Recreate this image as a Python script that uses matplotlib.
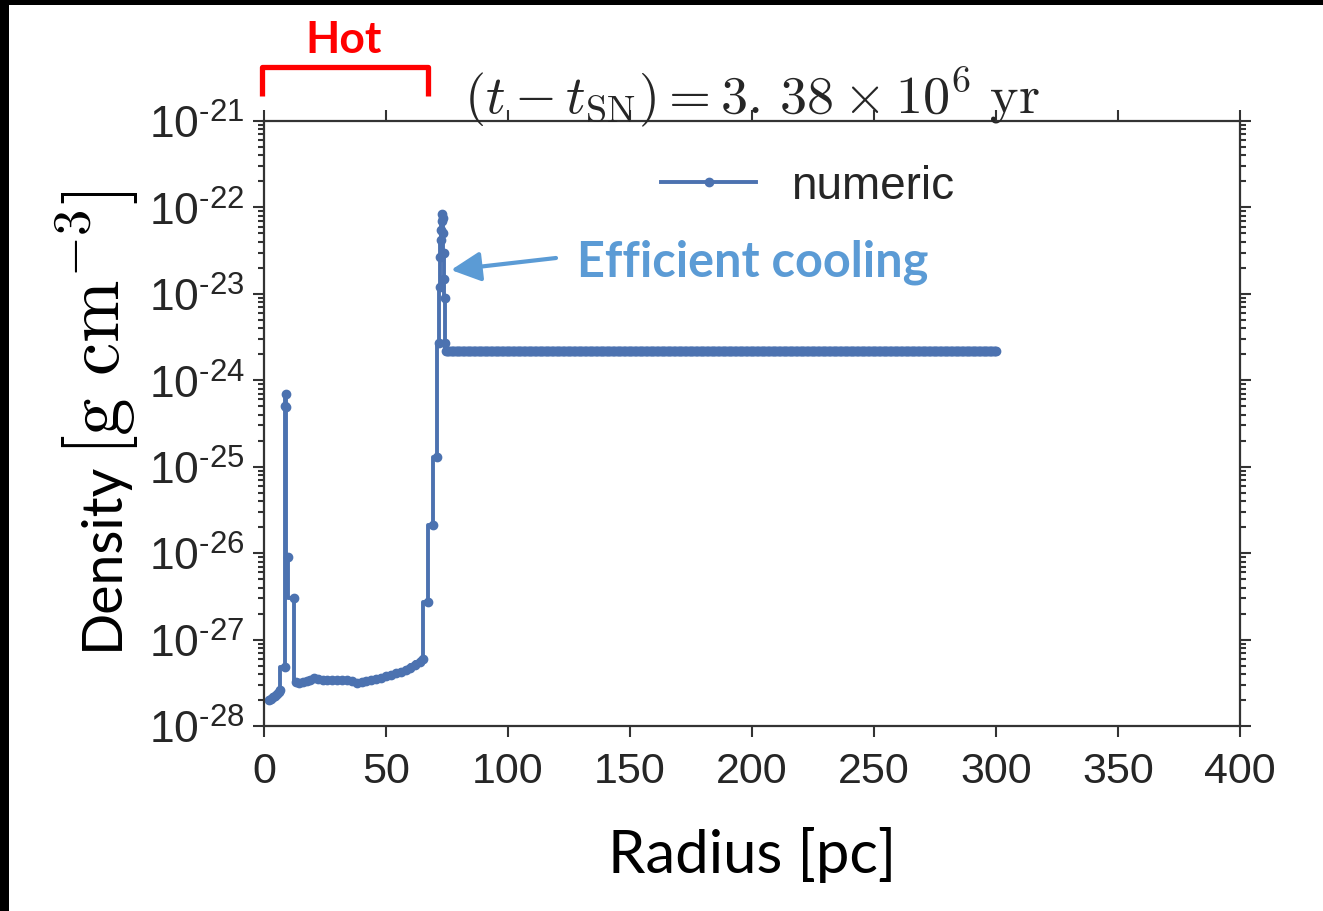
import numpy as np
import matplotlib
matplotlib.use("Agg")
import matplotlib.pyplot as plt
from matplotlib.lines import Line2D
from matplotlib.patches import Rectangle, FancyArrowPatch
from matplotlib.ticker import FixedLocator, LogLocator, NullFormatter

# ---- density profile of the remnant: radius [pc], density [g cm^-3] ----
# hot bubble interior, including the dense clump near the centre
radius_bubble = [2.0, 2.8, 3.6, 4.4, 5.2, 6.0, 6.6, 8.6, 8.7, 8.9, 9.1, 9.8,
                 12.4, 13.0, 14.5, 16.0, 17.5, 19.0, 20.5, 22.0, 24.0, 26.0,
                 28.0, 30.0, 32.0, 34.0, 36.0, 38.0, 40.0, 42.0, 44.0, 46.0,
                 48.0, 50.0, 52.0, 54.0, 56.0, 58.0, 60.0, 62.0, 64.0, 65.0]
density_bubble = [2.0e-28, 2.05e-28, 2.15e-28, 2.25e-28, 2.35e-28, 2.5e-28,
                  2.6e-28, 4.8e-28, 5.0e-25, 6.9e-25, 4.9e-25, 9.0e-27,
                  3.0e-27, 3.2e-28, 3.15e-28, 3.2e-28, 3.3e-28, 3.45e-28,
                  3.55e-28, 3.5e-28, 3.45e-28, 3.45e-28, 3.45e-28, 3.45e-28,
                  3.45e-28, 3.4e-28, 3.3e-28, 3.15e-28, 3.2e-28, 3.3e-28,
                  3.4e-28, 3.5e-28, 3.6e-28, 3.75e-28, 3.9e-28, 4.05e-28,
                  4.25e-28, 4.5e-28, 4.75e-28, 5.1e-28, 5.5e-28, 6.0e-28]
# swept-up shell
radius_shell = [67.4, 69.1, 71.1, 71.8, 72.0, 72.2, 72.4, 72.6, 72.8, 73.0,
                73.2, 73.4, 73.6, 73.8, 74.0, 74.3, 74.6]
density_shell = [2.7e-27, 2.1e-26, 1.3e-25, 2.7e-24, 1.2e-23, 2.7e-23,
                 4.2e-23, 5.5e-23, 7.0e-23, 8.3e-23, 7.5e-23, 5.0e-23,
                 3.0e-23, 1.5e-23, 9.0e-24, 2.7e-24, 2.2e-24]
# undisturbed ambient medium on the uniform outer grid
radius_ambient = np.arange(75.0, 300.01, 0.5)
density_ambient = 2.2e-24

x_ticks = [0, 50, 100, 150, 200, 250, 300, 350, 400]
y_decades = [-28, -27, -26, -25, -24, -23, -22, -21]

radius = np.concatenate([radius_bubble, radius_shell, radius_ambient])
density = np.concatenate([density_bubble, density_shell,
                          np.full(radius_ambient.size, density_ambient)])

plt.rcParams['mathtext.fontset'] = 'custom'
plt.rcParams['mathtext.rm'] = 'Liberation Sans'
plt.rcParams['mathtext.it'] = 'Liberation Sans:italic'
plt.rcParams['mathtext.bf'] = 'Liberation Sans:bold'

W, H = 1323, 912
fig = plt.figure(figsize=(W / 100, H / 100), dpi=100)
fig.patch.set_facecolor('white')


def fx(px):
    return px / W


def fy(py):
    return 1 - py / H


# black frame strips along the left and top edges
fig.add_artist(Rectangle((0, 0), fx(9), 1, transform=fig.transFigure,
                         facecolor='black', edgecolor='none', zorder=10))
fig.add_artist(Rectangle((0, fy(6)), 1, 1 - fy(6), transform=fig.transFigure,
                         facecolor='black', edgecolor='none', zorder=10))

ax = fig.add_axes([fx(264), fy(727), fx(1240) - fx(264), fy(122) - fy(727)])
line_color = '#4C72B0'
ax.plot(radius, density, color=line_color, lw=2.8, marker='o', ms=6,
        mec=line_color, drawstyle='steps-pre', label='numeric')

ax.set_yscale('log')
ax.set_xlim(0, 400)
ax.set_ylim(1e-28, 1e-21)
ax.set_xticks(x_ticks)
ax.set_xticklabels([str(t) for t in x_ticks], fontfamily='Liberation Sans',
                   fontsize=31, color='#262626')
ax.yaxis.set_major_locator(FixedLocator([10.0 ** d for d in y_decades]))
ax.set_yticklabels([r'$10^{\text{-}%d}$' % -d for d in y_decades],
                   fontsize=32, color='#262626')
ax.yaxis.set_minor_locator(LogLocator(base=10, subs=np.arange(2, 10)))
ax.yaxis.set_minor_formatter(NullFormatter())

spine_color = '#333333'
for s in ax.spines.values():
    s.set_color(spine_color)
    s.set_linewidth(1.6)
ax.tick_params(which='both', direction='out', top=True, right=True,
               color=spine_color, width=1.5)
ax.tick_params(which='major', length=8, pad=6)
ax.tick_params(which='minor', length=4)
ax.tick_params(axis='x', pad=10)

ax.set_xlabel('Radius [pc]', fontfamily='Lato', fontsize=43, color='black',
              labelpad=25)

# y-axis label: sans-serif word followed by the unit in a serif math face
fig.text(fx(118), fy(650), 'Density', rotation=90, rotation_mode='anchor',
         ha='left', va='baseline', fontfamily='Lato', fontsize=40,
         color='black')
fig.text(fx(120), fy(456), r'$[\mathrm{g\ cm}^{-3}]$', rotation=90,
         rotation_mode='anchor', ha='left', va='baseline', fontsize=54,
         math_fontfamily='cm', color='black')

ax.text(0.5, 1.0 + 8 / 605,
        r'$(t - t_{\rm SN}) = 3.\,38 \times 10^{6}\ {\rm yr}$',
        transform=ax.transAxes, ha='center', va='baseline', fontsize=39,
        math_fontfamily='cm', color='#262626')

leg = ax.legend(loc='upper left', bbox_to_anchor=(0.365, 0.997), frameon=False,
                handlelength=2.07, handletextpad=0.76,
                prop={'family': 'Liberation Sans', 'size': 33})
for t in leg.get_texts():
    t.set_color('#262626')

# "Hot" bracket above the bubble
bx0, bx1, by0, by1 = 262, 428, 97, 68
fig.add_artist(Line2D([fx(bx0), fx(bx0), fx(bx1), fx(bx1)],
                      [fy(by0), fy(by1), fy(by1), fy(by0)],
                      transform=fig.transFigure, color='#FF0000', lw=3.8,
                      solid_joinstyle='round', solid_capstyle='butt'))
fig.text(fx(344), fy(40), 'Hot', color='#FF0000', fontfamily='Lato',
         fontweight='bold', fontsize=32, ha='center', va='center')

# cooling annotation
cool_color = '#5B9BD5'
fig.text(fx(577), fy(262), 'Efficient cooling', color=cool_color,
         fontfamily='Lato', fontweight='bold', fontsize=35, ha='left',
         va='center')
fig.add_artist(FancyArrowPatch((fx(556), fy(259)), (fx(451), fy(271)),
                               transform=fig.transFigure, color=cool_color,
                               lw=3, arrowstyle='-|>,head_length=0.9,head_width=0.45',
                               mutation_scale=20, shrinkA=0, shrinkB=0))

fig.savefig('out.png', dpi=100)
